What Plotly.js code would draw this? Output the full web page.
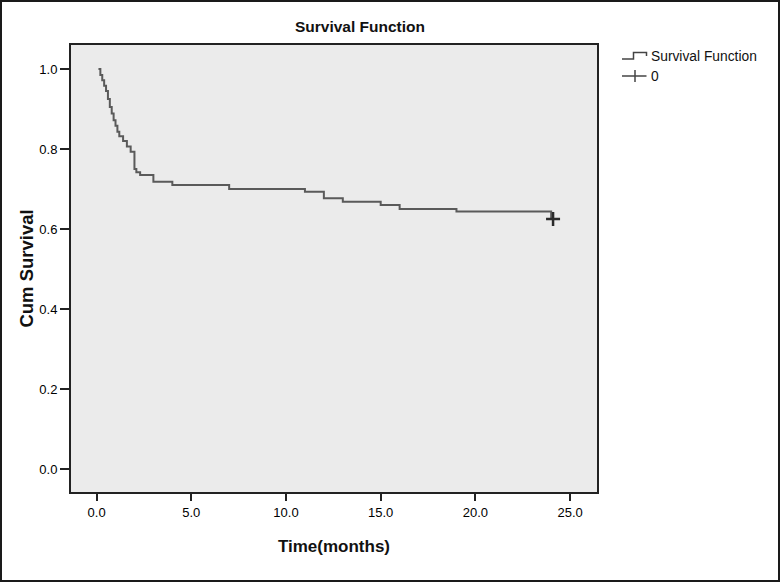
<!DOCTYPE html>
<html>
<head>
<meta charset="utf-8">
<script src="https://cdn.plot.ly/plotly-3.0.1.min.js"></script>
<style>
  html, body { margin: 0; padding: 0; background: #fff; }
  #wrap { position: relative; width: 780px; height: 582px; }
  #plot { width: 780px; height: 582px; }
  #frame { position: absolute; left: 0; top: 0; width: 780px; height: 582px;
           box-sizing: border-box; border: 2px solid #1a1a1a; pointer-events: none; }
</style>
</head>
<body>
<div id="wrap"><div id="plot"></div><div id="frame"></div></div>
<script>
// Kaplan-Meier step data (months, cumulative survival)
const times = [0.1, 0.2, 0.3, 0.4, 0.5, 0.6, 0.7, 0.8, 0.9, 1.0, 1.1, 1.2, 1.4, 1.6, 1.8, 2.0, 2.1, 2.3, 3.0, 4.0, 7.0, 11.0, 12.0, 13.0, 15.0, 16.0, 19.0, 24.0, 24.1];
const survival = [1.0, 0.985, 0.972, 0.958, 0.945, 0.925, 0.905, 0.889, 0.872, 0.858, 0.843, 0.832, 0.820, 0.806, 0.793, 0.750, 0.742, 0.735, 0.718, 0.710, 0.700, 0.693, 0.677, 0.668, 0.660, 0.650, 0.644, 0.625, 0.625];
// Censored observations
const censorTimes = [24.1];
const censorSurvival = [0.625];
// Ticks
const xTicks = [0, 5, 10, 15, 20, 25];
const yTicks = [0, 0.2, 0.4, 0.6, 0.8, 1.0];
const legendLabels = ["Survival Function", "0"];

const W = 780, H = 582;
const L = 71, R = 597, T = 45, B = 492;
const px = x => (x - L) / (R - L);
const py = y => (B - y) / (B - T);

const traces = [
  { x: times, y: survival, type: 'scatter', mode: 'lines', line: { shape: 'hv', color: '#5a5a5a', width: 2 },
    name: legendLabels[0], showlegend: false, hoverinfo: 'x+y' },
  { x: censorTimes, y: censorSurvival, type: 'scatter', mode: 'markers',
    marker: { symbol: 'cross-thin', size: 10, color: '#2a2a2a', line: { width: 2.5, color: '#2a2a2a' } },
    name: legendLabels[1], showlegend: false }
];

const font = 'Liberation Sans, Arial, sans-serif';
const layout = {
  width: W, height: H,
  margin: { l: L, r: W - R, t: T, b: H - B, pad: 0 },
  paper_bgcolor: '#ffffff', plot_bgcolor: '#ebebeb',
  showlegend: false,
  title: { text: '<b>Survival Function</b>', font: { family: font, size: 15.5, color: '#111' },
           xref: 'container', yref: 'container', x: 360 / W, y: 1 - 27 / H, xanchor: 'center', yanchor: 'middle' },
  xaxis: {
    range: [-1.35, 26.42], tickvals: xTicks, tickformat: '.1f',
    ticks: 'outside', ticklen: 7, tickwidth: 2, tickcolor: '#222',
    showline: true, linecolor: '#222', linewidth: 2, mirror: true,
    showgrid: false, zeroline: false,
    tickfont: { family: font, size: 13, color: '#000' },
    title: { text: '<b>Time(months)</b>', font: { family: font, size: 17, color: '#111' }, standoff: 22 }
  },
  yaxis: {
    range: [-0.0575, 1.06], tickvals: yTicks, tickformat: '.1f',
    ticks: 'outside', ticklen: 9, tickwidth: 2, tickcolor: '#222',
    showline: true, linecolor: '#222', linewidth: 2, mirror: true,
    showgrid: false, zeroline: false,
    tickfont: { family: font, size: 13, color: '#000' },
    title: { text: '<b>Cum Survival</b>', font: { family: font, size: 18.5, color: '#111' }, standoff: 1 }
  },
  shapes: [
    { type: 'path', xref: 'paper', yref: 'paper', layer: 'above',
      path: `M ${px(622)} ${py(59)} L ${px(633.5)} ${py(59)} L ${px(633.5)} ${py(52.5)} L ${px(646.5)} ${py(52.5)} L ${px(646.5)} ${py(56)}`,
      line: { color: '#444', width: 1.5 } },
    { type: 'line', xref: 'paper', yref: 'paper', x0: px(622), x1: px(646.5), y0: py(76), y1: py(76),
      line: { color: '#444', width: 1.5 } },
    { type: 'line', xref: 'paper', yref: 'paper', x0: px(635), x1: px(635), y0: py(70), y1: py(82),
      line: { color: '#444', width: 1.5 } }
  ],
  annotations: [
    { text: legendLabels[0], xref: 'paper', yref: 'paper', x: px(649), y: py(57), xanchor: 'left', yanchor: 'middle',
      showarrow: false, font: { family: font, size: 13.8, color: '#111' } },
    { text: legendLabels[1], xref: 'paper', yref: 'paper', x: px(649), y: py(77), xanchor: 'left', yanchor: 'middle',
      showarrow: false, font: { family: font, size: 13.8, color: '#111' } }
  ]
};

Plotly.newPlot('plot', traces, layout, { displayModeBar: false, staticPlot: true });
</script>
</body>
</html>
